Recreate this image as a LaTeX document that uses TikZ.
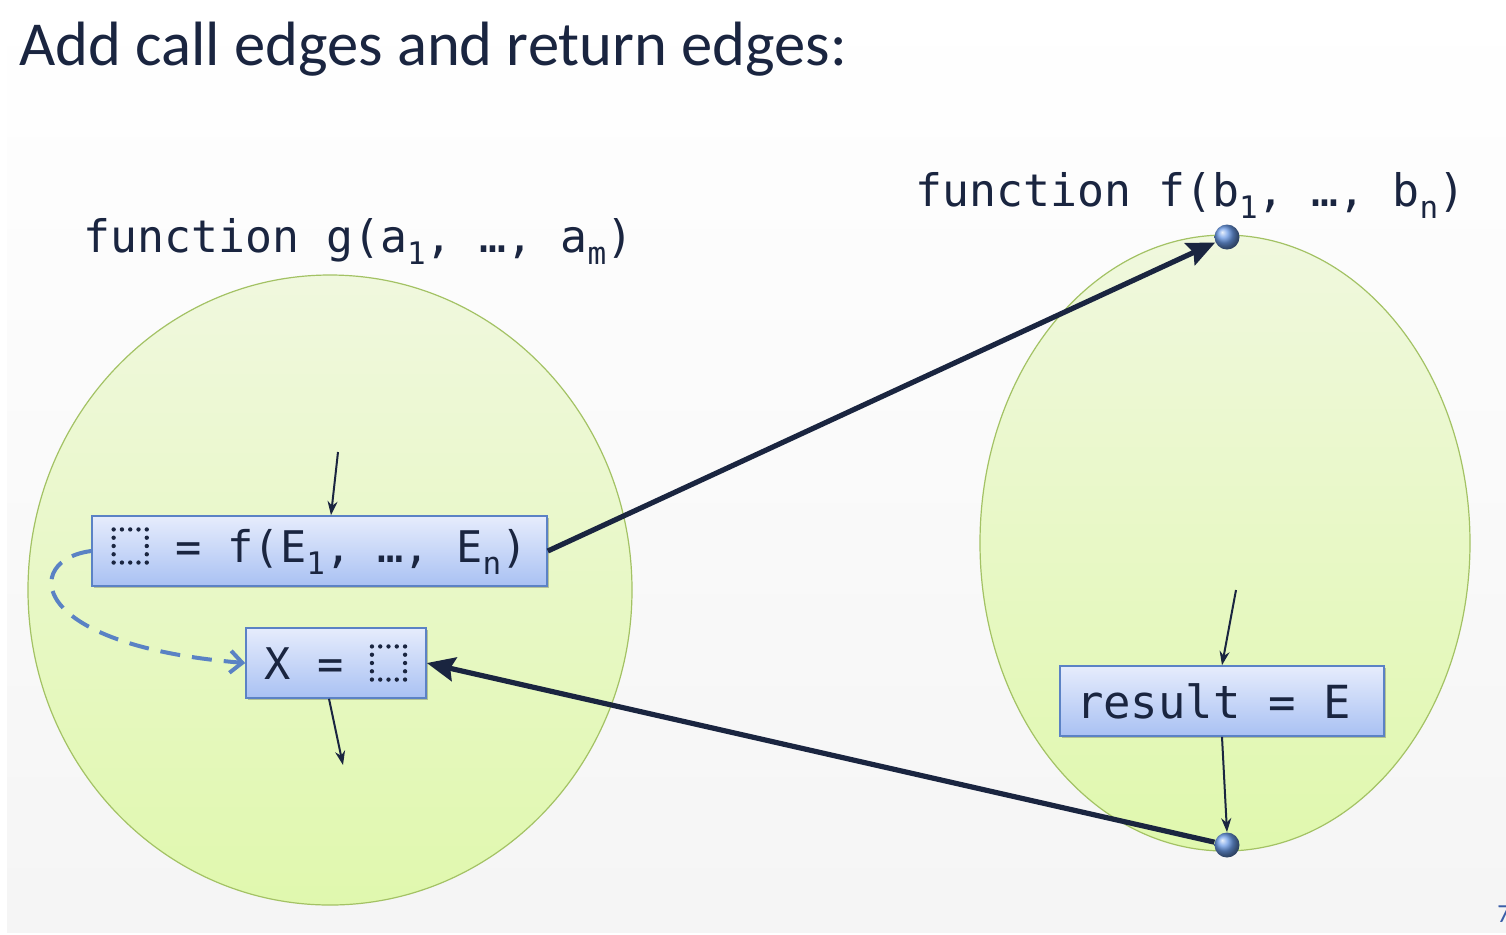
\documentclass[tikz,border=0pt]{standalone}
\usepackage{fontspec}
\setmainfont{Carlito}
\newfontfamily\monof{DejaVu Sans Mono}
\usetikzlibrary{arrows.meta,shadows}
\definecolor{ink}{HTML}{1A2540}
\definecolor{boxborder}{HTML}{5B82C5}
\definecolor{boxtop}{HTML}{E6ECFC}
\definecolor{boxbot}{HTML}{A9C1F3}
\definecolor{elltop}{HTML}{F0F8DE}
\definecolor{ellbot}{HTML}{E0F8AE}
\definecolor{ellborder}{HTML}{A3C264}
\definecolor{dashblue}{HTML}{5A82C4}
\definecolor{dotblue}{HTML}{6A9AE6}
\definecolor{pageblue}{HTML}{3B5EA8}
\newcommand\dotsq{\tikz[baseline=0pt]\draw[ink,line width=0.1em,line cap=round,dash pattern=on 0pt off 0.19em] (0pt,0pt) rectangle (0.76em,0.76em);}
\newcommand\sbs[1]{\raisebox{-0.28em}{\fontsize{15.5}{15.5}\selectfont #1}}
\tikzset{
  monotext/.style={font=\monof\fontsize{22.4}{26}\selectfont, text=ink},
  stmt/.style={monotext, draw=boxborder, line width=0.8pt, top color=boxtop, bottom color=boxbot,
    minimum height=35pt, inner sep=0pt,
    drop shadow={shadow xshift=1.2pt, shadow yshift=-1.2pt, opacity=0.22, fill=black}},
  region/.style={draw=ellborder, line width=0.6pt, top color=elltop, bottom color=ellbot},
  entry/.style={circle, inner sep=0pt, minimum size=12.5pt, shading=ball, ball color=dotblue},
  flow/.style={ink, line width=1pt, -{Stealth[length=7pt,width=5pt]}},
  interedge/.style={ink, line width=2.6pt, -{Stealth[length=14pt,width=12pt,inset=2pt]}},
  localedge/.style={dashblue, line width=2pt, dash pattern=on 10pt off 6pt, -{Straight Barb[length=6pt,width=11pt,line width=2pt]}}
}
\begin{document}
\begin{tikzpicture}[x=0.5pt,y=-0.5pt]
\useasboundingbox (0,0) rectangle (1506,934);
\fill[white] (0,0) rectangle (1506,934);
\shade[top color=white, bottom color=black!4, middle color=black!2] (7,0) rectangle (1506,932);
% title
\node[anchor=base west, inner sep=0pt, text=ink, font=\fontsize{31.3}{36}\selectfont] (title) at (19,65) {Add call edges and return edges:};
% regions
\path[region] (330,590) ellipse [x radius=151pt, y radius=157.5pt];
\path[region] (1225,543) ellipse [x radius=122.5pt, y radius=154pt];
% labels
\node[monotext, anchor=base west, inner sep=0pt] (glabel) at (83,252) {function g(a\sbs{1}, …, a\sbs{m})};
\node[monotext, anchor=base west, inner sep=0pt] (flabel) at (915,206) {function f(b\sbs{1}, …, b\sbs{n})};
% statements
\node[stmt, minimum width=227.5pt] (call) at (319.5,551) {\fontsize{21.8}{26}\selectfont\dotsq\ = f(E\sbs{1}, …, E\sbs{n})};
\node[stmt, minimum width=90pt] (ret) at (336,663) {\fontsize{21.8}{26}\selectfont X = \dotsq};
\node[stmt, minimum width=162pt] (res) at (1222,701) {\makebox[146pt][l]{\fontsize{22.8}{26}\selectfont result = E}};
% entry / exit
\node[entry] (fentry) at (1227,237) {};
\node[entry] (fexit) at (1227,845) {};
% local flow
\coordinate (cin) at (338,452);
\coordinate (rout) at (343,765);
\coordinate (resin) at (1236,590);
\draw[flow] (cin) -- (call.north -| 331,0);
\draw[flow] (ret.south -| 329,0) -- (rout);
\draw[flow] (resin) -- (res.north -| 1222,0);
\draw[flow] (res.south -| 1222,0) -- (fexit.north);
% call and return edges
\draw[interedge] (call.east) -- (fentry);
\draw[interedge] (fexit) -- (ret.east);
% call-to-return edge
\draw[localedge] (call.west) .. controls (22,560) and (26,645) .. (ret.west);
% page number
\node[anchor=base west, inner sep=0pt, text=pageblue, font=\fontsize{13}{15}\selectfont] (pg) at (1497,922) {7};
\end{tikzpicture}
\end{document}
